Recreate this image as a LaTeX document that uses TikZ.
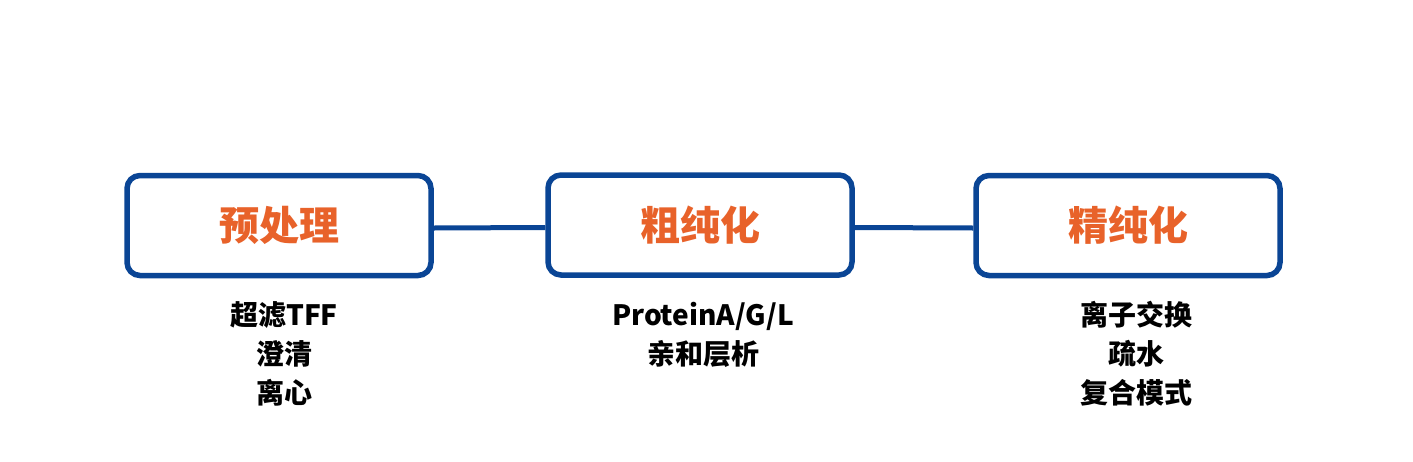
\documentclass[tikz,border=0pt]{standalone}
\usepackage{fontspec}
\newfontfamily\cjk{Noto Sans CJK SC}
\usetikzlibrary{positioning}
\definecolor{stageblue}{HTML}{0A4595}
\definecolor{stageorange}{HTML}{E8622A}
\tikzset{
  stage/.style={
    draw = stageblue,
    line width = 5.5pt,
    rounded corners = 13pt,
    minimum width = 304pt,
    minimum height = 100pt,
    text = stageorange,
    font = \cjk\bfseries\fontsize{40}{40}\selectfont
  },
  method/.style={
    align = center,
    inner sep = 0pt,
    font = \cjk\bfseries\fontsize{28}{39}\selectfont
  },
  link/.style={
    draw = stageblue,
    line width = 5pt
  },
}

\begin{document}
\begin{tikzpicture}[x=1pt,y=-1pt]
    \useasboundingbox (0,0) rectangle (1413,461);
    \node[stage] (pre) at (279,225.5) {预处理};
    \node[stage] (crude) at (700,225) {粗纯化};
    \node[stage] (fine) at (1128,225.5) {精纯化};
      \draw[link] ([yshift=-2.5pt]pre.east) -- ([yshift=-2.5pt]crude.west);
      \draw[link] ([yshift=-2.5pt]crude.east) -- ([yshift=-2.5pt]fine.west);
    \node[method] (pre-m) at (284,354) {超滤TFF\\澄清\\离心};
    \node[method] (crude-m) at (703,335) {ProteinA/G/L\\亲和层析};
    \node[method] (fine-m) at (1136,354) {离子交换\\疏水\\复合模式};
\end{tikzpicture}
\end{document}
